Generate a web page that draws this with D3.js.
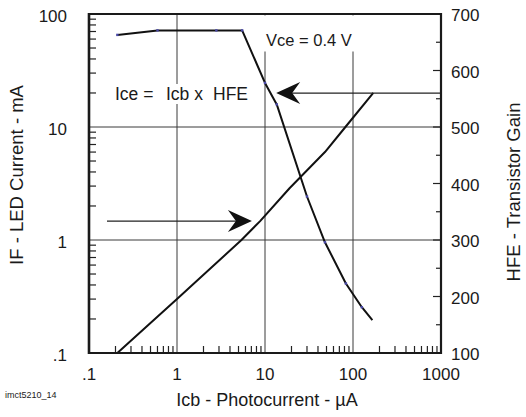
<!DOCTYPE html>
<html>
<head>
<meta charset="utf-8">
<script src="https://cdn.jsdelivr.net/npm/d3@7"></script>
<style>
  html, body { margin: 0; padding: 0; background: #fff; }
  svg { display: block; font-family: "Liberation Sans", Arial, Helvetica, sans-serif; }
</style>
</head>
<body>
<svg id="chart" width="526" height="417"></svg>
<script>
// LED forward current (left, log) vs. photocurrent
const ifIcb = [0.21, 1, 5.4, 8.8, 19, 48, 82, 170];
const ifCurrent = [0.1, 0.3, 1, 1.47, 2.87, 6, 10, 20];

// Transistor gain (right, linear) vs. photocurrent
const hfeIcb = [0.21, 0.6, 2.8, 5.5, 10, 13.6, 30, 48, 83, 126, 166];
const hfeGain = [663, 671, 671, 671, 578, 540, 377, 296, 223, 181, 158];

// Axis ticks
const xTicks = [0.1, 1, 10, 100, 1000];
const xTickLabels = [".1", "1", "10", "100", "1000"];
const yLeftTicks = [0.1, 1, 10, 100];
const yLeftTickLabels = [".1", "1", "10", "100"];
const yRightTicks = [100, 200, 300, 400, 500, 600, 700];
const yRightMinor = [150, 250, 350, 450, 550, 650];

// Annotation arrows: one at IF = 1.47 mA pointing right, one at HFE = 560 pointing left
const arrowIF = { from: 0.16, to: 7.1, value: 1.47 };
const arrowHFE = { from: 1000, to: 13.4, value: 560 };

const svg = d3.select("#chart");
const L = 89, R = 441, T = 14, B = 353;

const x = d3.scaleLog().domain([0.1, 1000]).range([L, R]);
const yL = d3.scaleLog().domain([0.1, 100]).range([B, T]);
const yR = d3.scaleLinear().domain([100, 700]).range([B, T]);

svg.append("rect").attr("width", 526).attr("height", 417).attr("fill", "#fff");

// Gridlines at inner decades
const g = svg.append("g").attr("stroke", "#3a3a3a").attr("stroke-width", 1);
[1, 10, 100].forEach(v => {
  g.append("line").attr("x1", x(v)).attr("x2", x(v)).attr("y1", T).attr("y2", B);
});
[1, 10].forEach(v => {
  g.append("line").attr("x1", L).attr("x2", R).attr("y1", yL(v)).attr("y2", yL(v));
});

// Minor ticks (inside the frame)
const minor = svg.append("g").attr("stroke", "#222").attr("stroke-width", 1.2);
const decadeMinors = (lo, hi) => {
  const out = [];
  for (let d = lo; d < hi; d *= 10) for (let k = 2; k <= 9; k++) out.push(d * k);
  return out;
};
decadeMinors(0.1, 1000).forEach(v => {
  minor.append("line").attr("x1", x(v)).attr("x2", x(v)).attr("y1", B).attr("y2", B - 7);
});
decadeMinors(0.1, 100).forEach(v => {
  minor.append("line").attr("x1", L).attr("x2", L + 7).attr("y1", yL(v)).attr("y2", yL(v));
});
yRightTicks.forEach(v => {
  minor.append("line").attr("x1", R).attr("x2", R - 8).attr("y1", yR(v)).attr("y2", yR(v));
});
yRightMinor.forEach(v => {
  minor.append("line").attr("x1", R).attr("x2", R - 5).attr("y1", yR(v)).attr("y2", yR(v));
});

// Curves
const lineIF = d3.line().x(d => x(d[0])).y(d => yL(d[1]));
const lineHFE = d3.line().x(d => x(d[0])).y(d => yR(d[1]));
const ifData = ifIcb.map((v, i) => [v, ifCurrent[i]]);
const hfeData = hfeIcb.map((v, i) => [v, hfeGain[i]]);

svg.append("path").datum(ifData).attr("d", lineIF)
  .attr("fill", "none").attr("stroke", "#111").attr("stroke-width", 2).attr("stroke-linejoin", "round");
svg.append("path").datum(hfeData).attr("d", lineHFE)
  .attr("fill", "none").attr("stroke", "#111").attr("stroke-width", 2).attr("stroke-linejoin", "round");

// Small vertex markers on the gain curve
svg.append("g").selectAll("rect").data(hfeData.slice(0, -1)).join("rect")
  .attr("x", d => x(d[0]) - 1.2).attr("y", d => yR(d[1]) - 1.2)
  .attr("width", 2.4).attr("height", 2.4).attr("fill", "#4a4aa8");

// Arrows
const head = "M0,0 L-24,-11 L-16,0 L-24,11 Z";
function arrow(x1, x2, yy) {
  const dir = x2 > x1 ? 1 : -1;
  svg.append("line").attr("x1", x1).attr("x2", x2 - dir * 14).attr("y1", yy).attr("y2", yy)
    .attr("stroke", "#222").attr("stroke-width", 1.3);
  svg.append("path").attr("d", head)
    .attr("transform", `translate(${x2},${yy}) rotate(${dir > 0 ? 0 : 180})`)
    .attr("fill", "#111");
}
arrow(x(arrowIF.from), x(arrowIF.to), yL(arrowIF.value));
arrow(x(arrowHFE.from), x(arrowHFE.to), yR(arrowHFE.value));

// Labels with white backing
const vce = svg.append("text").attr("x", 266).attr("y", 46)
  .attr("font-size", 16.5).attr("fill", "#1a1a1a").text("Vce = 0.4 V");
let bb = vce.node().getBBox();
svg.insert("rect", () => vce.node())
  .attr("x", bb.x - 4).attr("y", T + 1.5).attr("width", bb.width + 8).attr("height", bb.y + bb.height - T + 1)
  .attr("fill", "#fff");

const iceParts = ["Ice =", "Icb x", "HFE"];
const iceX = [115, 166, 213];
const ice = svg.append("text").attr("y", 100).attr("font-size", 17.5).attr("fill", "#1a1a1a");
iceParts.forEach((s, i) => ice.append("tspan").attr("x", iceX[i]).text(s));
bb = ice.node().getBBox();
svg.insert("rect", () => ice.node())
  .attr("x", bb.x - 2).attr("y", bb.y).attr("width", bb.width + 4).attr("height", bb.height)
  .attr("fill", "#fff");

// Frame
const frame = svg.append("g").attr("stroke", "#1a1a1a").attr("fill", "none");
frame.append("line").attr("x1", L).attr("x2", R).attr("y1", T).attr("y2", T).attr("stroke-width", 2.2);
frame.append("line").attr("x1", L).attr("x2", R).attr("y1", B).attr("y2", B).attr("stroke-width", 2.2);
frame.append("line").attr("x1", L).attr("x2", L).attr("y1", T - 1).attr("y2", B + 1).attr("stroke-width", 2.6);
frame.append("line").attr("x1", R).attr("x2", R).attr("y1", T - 1).attr("y2", B + 1).attr("stroke-width", 2.2);

// Tick labels
const lab = svg.append("g").attr("font-size", 17).attr("fill", "#1a1a1a");
xTicks.forEach((v, i) => {
  lab.append("text").attr("x", x(v)).attr("y", 380).attr("text-anchor", "middle").text(xTickLabels[i]);
});
yLeftTicks.forEach((v, i) => {
  lab.append("text").attr("x", 67).attr("y", yL(v) + 8).attr("text-anchor", "end").text(yLeftTickLabels[i]);
});
yRightTicks.forEach(v => {
  lab.append("text").attr("x", 451).attr("y", yR(v) + 7).attr("text-anchor", "start").text(v);
});

// Axis titles
svg.append("text").attr("x", 267).attr("y", 406).attr("text-anchor", "middle")
  .attr("font-size", 18).attr("fill", "#1a1a1a").text("Icb - Photocurrent - \u00b5A");
svg.append("text").attr("transform", "translate(23,175) rotate(-90)").attr("text-anchor", "middle")
  .attr("font-size", 18.5).attr("fill", "#1a1a1a").text("IF - LED Current - mA");
svg.append("text").attr("transform", "translate(520,192) rotate(-90)").attr("text-anchor", "middle")
  .attr("font-size", 18.5).attr("fill", "#1a1a1a").text("HFE - Transistor Gain");
svg.append("text").attr("x", 5).attr("y", 398).attr("font-size", 9).attr("fill", "#1a1a1a").text("imct5210_14");
</script>
</body>
</html>
